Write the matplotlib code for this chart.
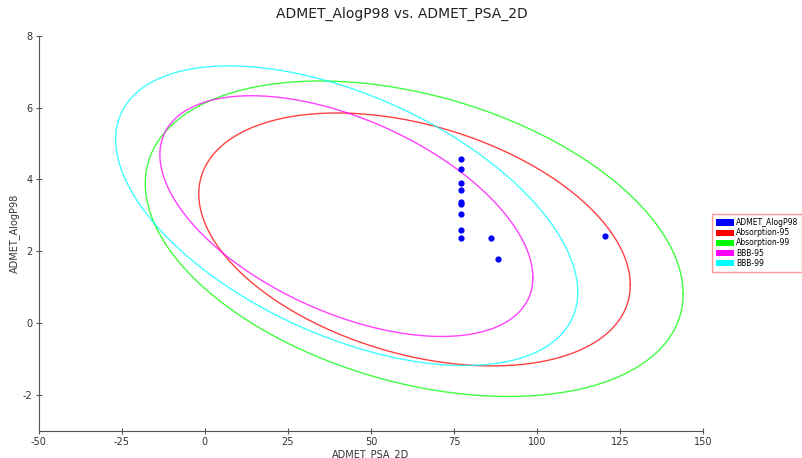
import numpy as np
import matplotlib.pyplot as plt
from matplotlib.patches import Patch

plt.rcParams["axes.unicode_minus"] = False

# scatter points (PSA_2D, AlogP98)
psa = [77.0, 77.0, 77.0, 77.0, 77.0, 77.0, 77.0, 77.0, 77.0, 86.0, 88.3, 120.5]
alogp = [4.56, 4.30, 3.89, 3.70, 3.33, 3.36, 3.04, 2.59, 2.37, 2.36, 1.78, 2.44]

# ellipses: centre, half-range in x, half-range in y, correlation
ell_names = ["Absorption-95", "Absorption-99", "BBB-95", "BBB-99"]
ell_cx = [63.1, 63.0, 42.6, 42.7]
ell_cy = [2.33, 2.35, 2.98, 2.99]
ell_rx = [64.9, 80.9, 56.1, 69.5]
ell_ry = [3.52, 4.39, 3.35, 4.17]
ell_rho = [-0.36, -0.35, -0.51, -0.51]
ell_colors = ["#ff0000", "#00ff00", "#ff00ff", "#00ffff"]

fig = plt.figure(figsize=(8.03, 4.58), dpi=100)
ax = fig.add_axes([0.048, 0.059, 0.828, 0.863])

t = np.linspace(0, 2 * np.pi, 400)
for cx, cy, rx, ry, rho, c in zip(ell_cx, ell_cy, ell_rx, ell_ry, ell_rho, ell_colors):
    x = cx + rx * np.cos(t)
    y = cy + ry * (rho * np.cos(t) + np.sqrt(1 - rho ** 2) * np.sin(t))
    ax.plot(x, y, color=c, lw=1.0, alpha=0.75)

ax.scatter(psa, alogp, s=12, color="#0000ff", zorder=3)

ax.set_xlim(-50, 150)
ax.set_ylim(-3, 8)
ax.set_xticks(np.arange(-50, 151, 25))
ax.set_yticks(np.arange(-2, 9, 2))
ax.spines["top"].set_visible(False)
ax.spines["right"].set_visible(False)
for s in ["left", "bottom"]:
    ax.spines[s].set_color("#555555")
    ax.spines[s].set_linewidth(0.8)
ax.tick_params(direction="inout", length=5, width=0.8, colors="#555555",
               labelsize=7, labelcolor="#333333", pad=2)

ax.set_xlabel("ADMET_PSA_2D", fontsize=7, color="#333333", labelpad=1)
ax.set_ylabel("ADMET_AlogP98", fontsize=7, color="#333333", labelpad=2)
fig.suptitle("ADMET_AlogP98 vs. ADMET_PSA_2D", fontsize=10, color="#222222", y=0.985)

handles = [Patch(facecolor="#0000ff", edgecolor="none", label="ADMET_AlogP98")]
for n, c in zip(ell_names, ell_colors):
    handles.append(Patch(facecolor=c, edgecolor="none", label=n))
leg = fig.legend(handles=handles, loc="upper left", bbox_to_anchor=(0.887, 0.532),
                 fontsize=5.5, frameon=True, fancybox=False, handlelength=2.4,
                 handleheight=0.9, handletextpad=0.2, labelspacing=0.15,
                 borderpad=0.5, borderaxespad=0)
leg.get_frame().set_edgecolor("#ff8080")
leg.get_frame().set_linewidth(1.0)

fig.savefig("out.png", dpi=100)
